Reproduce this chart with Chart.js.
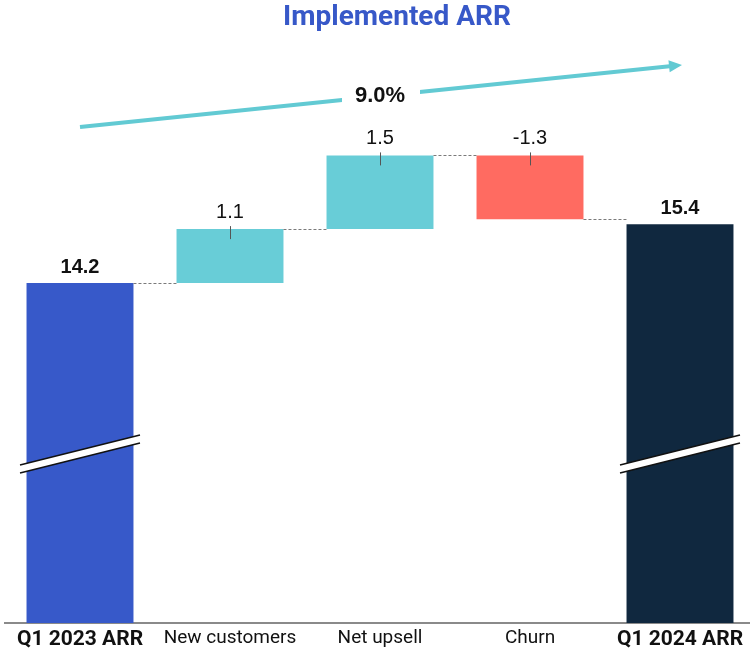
<!DOCTYPE html>
<html>
<head>
<meta charset="utf-8">
<script src="https://cdn.jsdelivr.net/npm/chart.js@4"></script>
<style>
  html, body { margin: 0; padding: 0; background: #fff; overflow: hidden; }
  #wrap { width: 755px; height: 657px; }
</style>
</head>
<body>
<div id="wrap"><canvas id="arrChart"></canvas></div>
<script>
const categories = ["Q1 2023 ARR", "New customers", "Net upsell", "Churn", "Q1 2024 ARR"];
const values = [14.2, 1.1, 1.5, -1.3, 15.4];
const kinds = ["total", "delta", "delta", "delta", "total"];
const barColors = ["#3759C9", "#68CDD7", "#68CDD7", "#FF6B61", "#10283F"];
const growthLabel = "9.0%";
const chartTitle = "Implemented ARR";

const AXIS_MIN = 7.28;
const AXIS_MAX = 19.15;
const AXIS_FONT = "Roboto, 'Liberation Sans', sans-serif";
const LABEL_FONT = "'Liberation Sans', Arial, sans-serif";

// floating bars: totals sit on the axis, deltas start from the running level
let running = 0;
const ranges = values.map((v, i) => {
  if (kinds[i] === "total") {
    running = v;
    return [AXIS_MIN, v];
  }
  const from = running;
  running += v;
  return [from, running];
});

const waterfallExtras = {
  id: "waterfallExtras",
  afterDatasetsDraw(chart) {
    const { ctx, chartArea } = chart;
    const y = chart.scales.y;
    const bars = chart.getDatasetMeta(0).data;

    ctx.save();

    // dashed connectors between bars
    ctx.strokeStyle = "#7a7a7a";
    ctx.lineWidth = 1;
    ctx.setLineDash([3, 2]);
    for (let i = 0; i < bars.length - 1; i++) {
      const level = ranges[i][1];
      const py = Math.round(y.getPixelForValue(level)) + 0.5;
      ctx.beginPath();
      ctx.moveTo(bars[i].x + bars[i].width / 2, py);
      ctx.lineTo(bars[i + 1].x - bars[i + 1].width / 2, py);
      ctx.stroke();
    }
    ctx.setLineDash([]);

    // value labels
    bars.forEach((bar, i) => {
      const topVal = Math.max(ranges[i][0], ranges[i][1]);
      const topPx = y.getPixelForValue(topVal);
      ctx.textAlign = "center";
      ctx.textBaseline = "middle";
      ctx.fillStyle = "#111";
      if (kinds[i] === "total") {
        ctx.font = "bold 20px " + LABEL_FONT;
        ctx.fillText(values[i].toFixed(1), bar.x, topPx - 16);
      } else {
        ctx.font = "20px " + LABEL_FONT;
        ctx.fillText(values[i].toFixed(1), bar.x, topPx - 17);
        ctx.strokeStyle = "#555";
        ctx.lineWidth = 1;
        ctx.beginPath();
        ctx.moveTo(Math.round(bar.x) + 0.5, topPx - 3);
        ctx.lineTo(Math.round(bar.x) + 0.5, topPx + 10);
        ctx.stroke();
      }
    });

    // axis break marks on the total bars
    const breakPx = y.getPixelForValue((AXIS_MIN + values[0]) / 2);
    bars.forEach((bar, i) => {
      if (kinds[i] !== "total") return;
      const x0 = bar.x - 60, x1 = bar.x + 60;
      const y0 = breakPx + 12, y1 = breakPx - 18;
      ctx.fillStyle = "#fff";
      ctx.beginPath();
      ctx.moveTo(x0, y0);
      ctx.lineTo(x1, y1);
      ctx.lineTo(x1, y1 + 8);
      ctx.lineTo(x0, y0 + 8);
      ctx.closePath();
      ctx.fill();
      ctx.strokeStyle = "#111";
      ctx.lineWidth = 1.5;
      ctx.beginPath();
      ctx.moveTo(x0, y0);
      ctx.lineTo(x1, y1);
      ctx.moveTo(x0, y0 + 8);
      ctx.lineTo(x1, y1 + 8);
      ctx.stroke();
    });

    // growth arrow with label
    const ax0 = bars[0].x, ay0 = chartArea.top + 87;
    const ax1 = bars[bars.length - 1].x + 2, ay1 = chartArea.top + 25;
    const ang = Math.atan2(ay1 - ay0, ax1 - ax0);
    ctx.strokeStyle = "#62CAD3";
    ctx.fillStyle = "#62CAD3";
    ctx.lineWidth = 4;
    ctx.beginPath();
    ctx.moveTo(ax0, ay0);
    ctx.lineTo(ax1 - 10 * Math.cos(ang), ay1 - 10 * Math.sin(ang));
    ctx.stroke();
    ctx.beginPath();
    ctx.moveTo(ax1, ay1);
    ctx.lineTo(ax1 - 13 * Math.cos(ang) + 6 * Math.sin(ang), ay1 - 13 * Math.sin(ang) - 6 * Math.cos(ang));
    ctx.lineTo(ax1 - 13 * Math.cos(ang) - 6 * Math.sin(ang), ay1 - 13 * Math.sin(ang) + 6 * Math.cos(ang));
    ctx.closePath();
    ctx.fill();

    const mx = bars[2].x;
    const my = ay0 + (ay1 - ay0) * (mx - ax0) / (ax1 - ax0);
    ctx.fillStyle = "#fff";
    ctx.fillRect(mx - 38, my - 16, 78, 32);
    ctx.fillStyle = "#111";
    ctx.font = "bold 22px " + LABEL_FONT;
    ctx.textAlign = "center";
    ctx.textBaseline = "middle";
    ctx.fillText(growthLabel, mx, my);

    // title
    ctx.fillStyle = "#3758C8";
    ctx.font = "bold 28px " + AXIS_FONT;
    ctx.fillText(chartTitle, (chartArea.left + chartArea.right) / 2 + 17, 18);

    ctx.restore();
  },
};

new Chart(document.getElementById("arrChart"), {
  type: "bar",
  data: {
    labels: categories,
    datasets: [
      {
        data: ranges,
        backgroundColor: barColors,
        borderWidth: 0,
        borderSkipped: false,
        barPercentage: 0.713,
        categoryPercentage: 1,
      },
    ],
  },
  options: {
    responsive: true,
    maintainAspectRatio: false,
    animation: false,
    layout: {
      padding: { top: 40, left: 5, right: 0, bottom: 1 },
    },
    plugins: {
      legend: { display: false },
      title: { display: false },
      tooltip: { enabled: false },
    },
    scales: {
      x: {
        grid: { display: false, drawTicks: false },
        border: { display: true, color: "#8a8a8a", width: 2 },
        ticks: {
          padding: 6,
          color: "#111",
          font: (c) => ({
            family: AXIS_FONT,
            size: kinds[c.index] === "total" ? 21 : 19,
            weight: kinds[c.index] === "total" ? "bold" : "normal",
            lineHeight: 1,
          }),
        },
      },
      y: {
        display: false,
        min: AXIS_MIN,
        max: AXIS_MAX,
      },
    },
  },
  plugins: [waterfallExtras],
});
</script>
</body>
</html>
